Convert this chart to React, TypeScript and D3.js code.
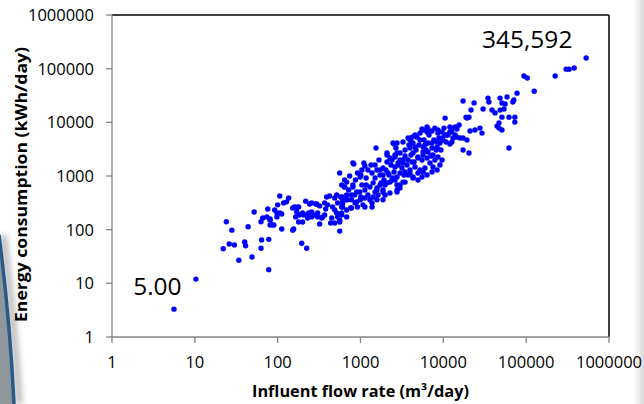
import React from "react";
import * as d3 from "d3";

// Influent flow rate (m3/day), energy consumption (kWh/day)
const flow: number[] = [
  5.6, 10.3, 22, 24, 26, 30, 28, 34, 40, 41, 44, 49, 52, 63, 64, 63, 66, 78, 78, 76, 81, 81, 90, 98, 100, 106, 112, 112, 118, 128, 136, 152, 156, 165, 179, 179, 195, 200, 206, 218, 224, 237, 243, 257, 288, 304, 321, 349, 390, 380, 436, 461, 488, 516, 561, 609, 644, 681, 760, 810, 900, 1010, 1130, 1380, 1580, 1870, 1980,
  160, 172, 257, 296, 321, 424, 516, 369, 401, 530, 576, 92, 106, 98, 170, 184, 200, 224, 230, 257, 280, 304, 340, 369, 74, 81, 87, 152, 488, 530, 593, 609, 609, 449, 488, 561, 593,
  1540, 561, 810, 1100, 1130, 1010, 2090, 2540, 830, 1500, 2760, 681, 644, 920, 990, 1230, 1380, 1580, 1720, 1870, 2090, 2400, 2610, 2840,
  810, 900, 1040, 1130, 1300, 1420, 1580, 1720, 1870, 2090, 2270, 2470, 2760,
  609, 700, 780, 860, 990, 1130, 1230, 1420, 1580,
  593, 681, 780, 920, 1070, 1380, 593, 681, 561,
  2470, 3260, 3960, 4300, 4800, 5230, 5700, 6540, 7300, 8400, 9100, 9900, 4300, 4940, 5700, 6360, 7500, 8600, 9650, 9100,
  2090, 2270, 2610, 3260, 3640, 4190, 4550, 5230, 6000, 6900, 7500, 8400,
  1720, 1870, 2150, 2400, 2760, 3000, 3450, 3960, 4300, 4940, 5700, 6360, 1870, 2270, 2760,
  5530, 6360, 7300, 7900, 8600, 9650, 10500,
  8600, 6540, 6360, 5700, 5230, 4550, 4190, 3750, 2760, 12000, 11000, 9650, 8400, 7300, 6000, 4550, 3960, 3450, 3000, 2610,
  6540, 5700, 4940, 3750, 3260, 2840, 7900, 3960, 3450, 3000, 7300, 5530, 4940, 4300, 3750, 3260, 3000, 2760,
  10500, 12000, 12700, 11400, 12000, 12700, 14600, 15900, 19300, 15500, 14600, 13900, 13900, 12700, 13100, 17300,
  17300, 23500, 21600, 18800, 20400, 21000, 24100, 27700, 29300, 17300, 20400,
  34600, 35500, 38700, 42100, 30200, 47000, 44500, 47000, 51000, 51000, 62000, 73000, 73000, 62000,
  51000, 54000, 48400, 58800, 71000, 69000, 77600, 94000, 103000, 125000, 224000, 304000, 330000, 380000, 530000,
  48400, 55700, 19300,
  644, 740, 870, 1040, 1170, 1340, 1500, 1670, 1920, 2030, 2330, 2540, 2680, 3000, 3170, 3450, 3850, 4070, 4430, 4680, 5080, 5530, 5850, 6180, 6720, 7100, 7700, 8200, 8850, 9350, 10200, 10800,
  720, 850, 980, 1170, 1500, 1770, 2210, 2610, 3350, 663, 780, 1040, 1300, 1630, 1980,
];

const energy: number[] = [
  3.3, 12, 44, 140, 54, 52, 98, 27, 59, 50, 113, 31, 214, 45, 64, 140, 165, 18, 66, 243, 158, 122, 122, 205, 290, 425, 196, 103, 315, 330, 390, 254, 103, 173, 265, 139, 56, 139, 188, 340, 45, 205, 300, 173, 300, 205, 128, 173, 407, 243, 133, 265, 390, 205, 94, 315, 624, 443, 254, 680, 330, 407, 265, 315, 550, 360, 680,
  265, 262, 315, 300, 277, 425, 443, 315, 290, 315, 407, 232, 205, 173, 214, 188, 205, 188, 165, 214, 188, 173, 165, 188, 173, 150, 122, 98, 232, 173, 205, 265, 360, 165, 133, 150, 680,
  3320, 1140, 1750, 1750, 1535, 1044, 2460, 3940, 1670, 1600, 2680, 770, 624, 1140, 955, 1290, 1140, 1290, 1040, 1410, 1820, 1990, 1470, 1750,
  624, 503, 680, 550, 624, 745, 597, 680, 503, 745, 770, 920, 680,
  407, 360, 443, 315, 360, 390, 443, 407, 360,
  265, 232, 254, 265, 290, 265, 188, 173, 139,
  4120, 4300, 4680, 4120, 5300, 4680, 3470, 4120, 3320, 3470, 4120, 4680, 2680, 2260, 2800, 2170, 2460, 2260, 1990, 1600,
  2680, 2170, 2260, 1990, 1600, 1820, 1470, 1290, 1410, 1750, 1470, 1290,
  1290, 1044, 1140, 845, 955, 680, 770, 1140, 955, 1140, 1187, 1044, 550, 481, 503,
  7500, 8200, 6900, 7800, 6300, 6600, 5800,
  7200, 7500, 6600, 7200, 6300, 5800, 5300, 5100, 4120, 6600, 5800, 5100, 4300, 4120, 3780, 3470, 3320, 3050, 2680, 2460,
  2800, 2460, 2170, 1990, 1750, 1600, 1990, 1290, 1187, 1140, 1187, 955, 845, 920, 1044, 770, 597, 550,
  12000, 8200, 6600, 5800, 3940, 4300, 5300, 5100, 4680, 8900, 7500, 5800, 8200, 7800, 5100, 5100,
  25000, 23000, 17000, 12500, 12500, 6900, 7200, 7800, 6300, 3050, 2680,
  28300, 24000, 17000, 15000, 17700, 9700, 8500, 7800, 7200, 12500, 12500, 12500, 10100, 3320,
  22900, 17700, 16900, 29600, 26000, 24000, 35000, 73000, 67000, 38000, 73000, 98000, 98000, 103000, 158000,
  28300, 22000, 12000,
  840, 1000, 840, 1290, 920, 1600, 920, 1990, 840, 1290, 1600, 1190, 3320, 1990, 1410, 2360, 3780, 2460, 1820, 3050, 3780, 1990, 4680, 3050, 5800, 2360, 4680, 3050, 5100, 3050, 7800, 4300,
  550, 443, 503, 680, 503, 745, 1044, 840, 1044, 360, 360, 390, 360, 443, 443,
];

const tickValues: number[] = [1, 10, 100, 1000, 10000, 100000, 1000000];
const annotations = [
  { text: "5.00", flow: 1.8, energy: 6.0 },
  { text: "345,592", flow: 29300, energy: 243000 },
];

const W = 644;
const H = 404;
const left = 112;
const right = 609;
const top = 15;
const bottom = 337;

export default function App() {
  const x = d3.scaleLog().domain([1, 1e6]).range([left, right]);
  const y = d3.scaleLog().domain([1, 1e6]).range([bottom, top]);
  const n = Math.min(flow.length, energy.length);
  const pts = d3.range(n).map((i) => [flow[i], energy[i]] as [number, number]);
  const font = "'Open Sans', sans-serif";

  return (
    <svg
      width={W}
      height={H}
      viewBox={`0 0 ${W} ${H}`}
      style={{ position: "absolute", left: 0, top: 0, background: "#fff" }}
    >
      <defs>
        <linearGradient id="rshade" x1="0" x2="1" y1="0" y2="0">
          <stop offset="0" stopColor="#ffffff" />
          <stop offset="1" stopColor="#d9d9d9" />
        </linearGradient>
        <filter id="blur" x="-50%" y="-10%" width="200%" height="120%">
          <feGaussianBlur stdDeviation="3" />
        </filter>
      </defs>
      <rect x={0} y={0} width={W} height={H} fill="#fff" />
      <rect x={633} y={0} width={11} height={H} fill="url(#rshade)" />
      {/* decorative circular edge bottom-left */}
      <path d="M 3 235 Q 14 320 19 404" fill="none" stroke="#9a9a9a" strokeWidth={6} filter="url(#blur)" opacity={0.8} />
      <path d="M -1 235 Q 10 320 14 404 L 0 404 Z" fill="#8f979c" />
      <path d="M -1 235 Q 10 320 14 404" fill="none" stroke="#2a5a88" strokeWidth={3.5} />

      {/* frame */}
      <line x1={left} x2={right} y1={top} y2={top} stroke="#000" strokeWidth={1.5} />
      <line x1={right} x2={right} y1={top} y2={bottom} stroke="#000" strokeWidth={1.5} />
      <line x1={left} x2={left} y1={top} y2={bottom} stroke="#868686" strokeWidth={1.3} />
      <line x1={left} x2={right} y1={bottom} y2={bottom} stroke="#868686" strokeWidth={1.3} />

      {tickValues.map((t) => (
        <g key={"y" + t}>
          <line x1={left - 6} x2={left} y1={y(t)} y2={y(t)} stroke="#868686" strokeWidth={1.3} />
          <text x={94} y={y(t)} dy="0.36em" textAnchor="end" fontFamily={font} fontSize={16.5} fill="#000">
            {String(t)}
          </text>
        </g>
      ))}
      {tickValues.map((t) => (
        <g key={"x" + t}>
          <line x1={x(t)} x2={x(t)} y1={bottom} y2={bottom + 6} stroke="#868686" strokeWidth={1.3} />
          <text x={x(t)} y={368} textAnchor="middle" fontFamily={font} fontSize={16.5} fill="#000">
            {String(t)}
          </text>
        </g>
      ))}

      <text
        x={360.5}
        y={397}
        textAnchor="middle"
        fontFamily={font}
        fontWeight="bold"
        fontSize={15.5}
        textLength={217}
        lengthAdjust="spacingAndGlyphs"
        fill="#000"
      >
        Influent flow rate (m³/day)
      </text>
      <text
        transform={`translate(27,184.5) rotate(-90)`}
        textAnchor="middle"
        fontFamily={font}
        fontWeight="bold"
        fontSize={15.5}
        textLength={275}
        lengthAdjust="spacingAndGlyphs"
        fill="#000"
      >
        Energy consumption (kWh/day)
      </text>

      {pts.map((p, i) => (
        <circle key={i} cx={x(p[0])} cy={y(p[1])} r={2.7} fill="#0000ff" />
      ))}

      {annotations.map((a) => (
        <text key={a.text} x={x(a.flow)} y={y(a.energy)} fontFamily={font} fontSize={24.5} fill="#000">
          {a.text}
        </text>
      ))}
    </svg>
  );
}
